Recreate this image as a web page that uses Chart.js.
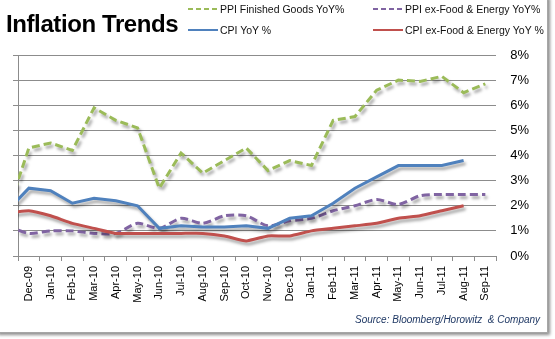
<!DOCTYPE html>
<html>
<head>
<meta charset="utf-8">
<script src="https://cdn.jsdelivr.net/npm/chart.js@4.4.1/dist/chart.umd.min.js"></script>
<style>
  body { margin: 0; background: #fff; font-family: "Liberation Sans", Arial, sans-serif; }
  #wrap { position: relative; width: 555px; height: 339px; overflow: hidden; }
  #frame { position: absolute; left: -4px; top: -4px; width: 551px; height: 336px; background: #fff;
           border-right: 1px solid #a6a6a6; border-bottom: 1px solid #a6a6a6;
           box-shadow: 2px 2px 3px rgba(0,0,0,0.45); }
  #chart { position: absolute; left: 0; top: 0; }
  #title { position: absolute; left: 6px; top: 12px; font: bold 24px/24px "Liberation Sans", Arial, sans-serif;
           letter-spacing: -0.4px; color: #000; white-space: nowrap; }
  .leg { position: absolute; height: 14px; display: flex; align-items: center; font-size: 10.5px;
         color: #111; white-space: nowrap; }
  .leg svg { margin-right: 2px; }
  #source { position: absolute; left: 355px; top: 314px; font: italic 10px/12px "Liberation Sans", Arial, sans-serif;
            color: #1f3864; white-space: pre; }
</style>
</head>
<body>
<div id="wrap">
  <div id="frame"></div>
  <canvas id="chart" width="555" height="339"></canvas>
  <div id="title">Inflation Trends</div>
  <div id="source">Source: Bloomberg/Horowitz  &amp; Company</div>
</div>
<script>
// months (Nov-09 is only there so the lines run in from the left edge)
var months = ['Nov-09', 'Dec-09', 'Jan-10', 'Feb-10', 'Mar-10', 'Apr-10', 'May-10', 'Jun-10', 'Jul-10', 'Aug-10',
  'Sep-10', 'Oct-10', 'Nov-10', 'Dec-10', 'Jan-11', 'Feb-11', 'Mar-11', 'Apr-11', 'May-11', 'Jun-11',
  'Jul-11', 'Aug-11', 'Sep-11'];

var ppiFinished = [1.7, 4.3, 4.5, 4.2, 5.9, 5.4, 5.1, 2.7, 4.1, 3.3, 3.8, 4.3, 3.4, 3.8, 3.6, 5.4, 5.55, 6.6, 7.0, 6.95, 7.15, 6.5, 6.85];
var ppiCore = [1.2, 0.9, 1.0, 1.0, 0.9, 0.9, 1.3, 1.1, 1.5, 1.3, 1.6, 1.6, 1.2, 1.4, 1.5, 1.8, 2.0, 2.25, 2.05, 2.4, 2.45, 2.45, 2.45];
var cpi = [1.8, 2.7, 2.6, 2.1, 2.3, 2.2, 2.0, 1.1, 1.2, 1.15, 1.15, 1.2, 1.1, 1.5, 1.6, 2.1, 2.7, 3.15, 3.6, 3.6, 3.6, 3.8, null];
var cpiCore = [1.7, 1.8, 1.6, 1.3, 1.1, 0.9, 0.9, 0.9, 0.9, 0.9, 0.8, 0.6, 0.8, 0.8, 1.0, 1.1, 1.2, 1.3, 1.5, 1.6, 1.8, 2.0, null];

var seriesNames = ['PPI Finished Goods YoY%', 'PPI ex-Food & Energy YoY%', 'CPI YoY %', 'CPI ex-Food & Energy YoY %'];
var yTicks = [0, 1, 2, 3, 4, 5, 6, 7, 8];

var colors = ['#9bbb59', '#8064a2', '#4f81bd', '#c0504d'];
var dashed = [true, true, false, false];

// legend, two columns like the original
var legPos = [[188, 2], [373, 2], [188, 23], [373, 23]];
seriesNames.forEach(function(name, i) {
  var d = document.createElement('div');
  d.className = 'leg';
  d.style.left = legPos[i][0] + 'px';
  d.style.top = legPos[i][1] + 'px';
  d.innerHTML = '<svg width="30" height="4"><line x1="0" y1="2" x2="30" y2="2" stroke="' + colors[i] +
    '" stroke-width="2"' + (dashed[i] ? ' stroke-dasharray="5 3"' : '') + '/></svg>';
  d.appendChild(document.createTextNode(name));
  document.getElementById('wrap').appendChild(d);
});

// soft drop shadow under the lines
var shadow = {
  id: 'shadow',
  beforeDatasetsDraw: function(chart) {
    var c = chart.ctx;
    c.save();
    c.shadowColor = 'rgba(0,0,0,0.35)';
    c.shadowBlur = 3;
    c.shadowOffsetX = 2;
    c.shadowOffsetY = 3;
  },
  afterDatasetsDraw: function(chart) {
    chart.ctx.restore();
  }
};

Chart.defaults.font.family = '"Liberation Sans", Arial, sans-serif';

var lists = [ppiFinished, ppiCore, cpi, cpiCore];
var tension = [0, 0.25, 0, 0.15];
var drawOrder = [4, 3, 2, 1];

var ctx = document.getElementById('chart').getContext('2d');
var chart = new Chart(ctx, {
  type: 'line',
  data: {
    labels: months,
    datasets: lists.map(function(vals, i) {
      return {
        label: seriesNames[i],
        data: vals,
        borderColor: colors[i],
        borderWidth: 3,
        borderDash: dashed[i] ? [8, 4] : [],
        pointRadius: 0,
        tension: tension[i],
        order: drawOrder[i],
        clip: { left: 0, top: 5, right: 5, bottom: 5 }
      };
    })
  },
  options: {
    responsive: false,
    animation: false,
    layout: { padding: { top: 55, left: 13, right: 12, bottom: 0 } },
    plugins: {
      legend: { display: false },
      tooltip: { enabled: false }
    },
    scales: {
      x: {
        type: 'category',
        min: 'Dec-09',
        max: 'Sep-11',
        offset: true,
        grid: { offset: true, drawOnChartArea: false, color: '#8c8c8c', tickLength: 5 },
        border: { color: '#8c8c8c' },
        ticks: { autoSkip: false, maxRotation: 90, minRotation: 90, color: '#000', font: { size: 11 }, padding: 5 },
        afterFit: function(s) { s.height = 83; }
      },
      y: {
        position: 'right',
        min: yTicks[0],
        max: yTicks[yTicks.length - 1],
        ticks: { stepSize: 1, color: '#000', font: { size: 13 }, padding: 14,
                 callback: function(v) { return v + '%'; } },
        grid: { color: '#8c8c8c', drawTicks: false },
        border: { display: false }
      },
      yL: {
        position: 'left',
        min: yTicks[0],
        max: yTicks[yTicks.length - 1],
        ticks: { display: false, stepSize: 1 },
        grid: { drawOnChartArea: false, color: '#8c8c8c', tickLength: 5 },
        border: { color: '#8c8c8c' }
      }
    }
  },
  plugins: [shadow]
});
</script>
</body>
</html>
